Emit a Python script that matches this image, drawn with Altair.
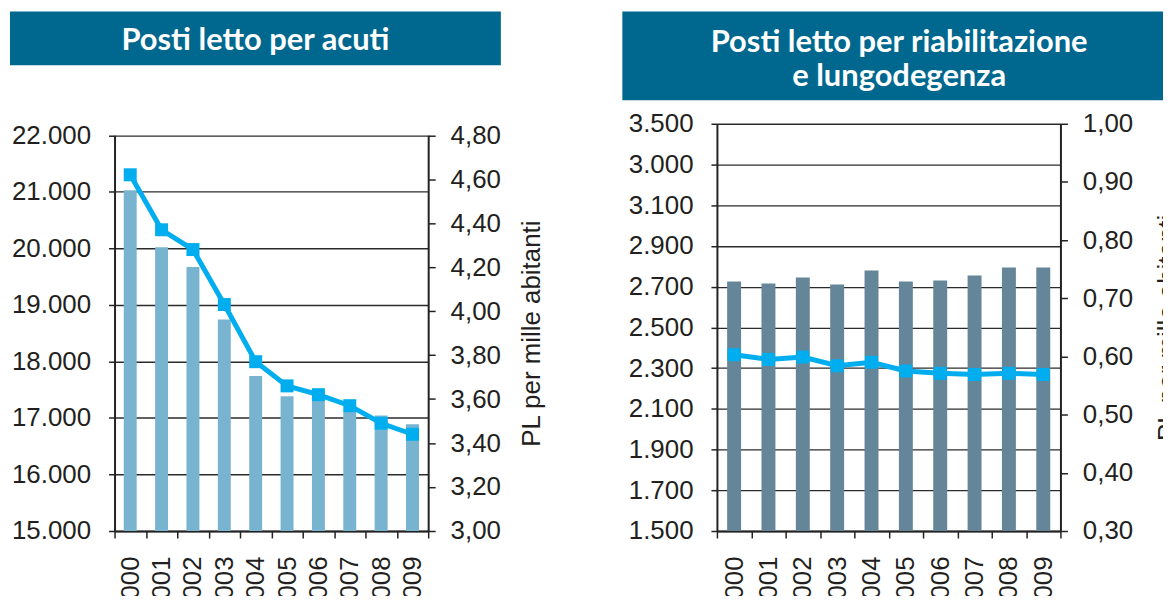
import altair as alt
import pandas as pd

# ---------------- data ----------------
years = ["2000", "2001", "2002", "2003", "2004", "2005", "2006", "2007", "2008", "2009"]

acuti_pl = [21027, 20020, 19668, 18742, 17741, 17384, 17310, 17115, 17045, 16887]
acuti_rate = [4.62, 4.37, 4.28, 4.03, 3.77, 3.66, 3.62, 3.57, 3.49, 3.44]

riab_pl = [2725, 2716, 2745, 2711, 2779, 2725, 2730, 2755, 2794, 2794]
riab_rate = [0.603, 0.595, 0.599, 0.584, 0.590, 0.575, 0.571, 0.569, 0.571, 0.569]

acuti_left_ticks = [15000, 16000, 17000, 18000, 19000, 20000, 21000, 22000]
acuti_right_ticks = [3.0, 3.2, 3.4, 3.6, 3.8, 4.0, 4.2, 4.4, 4.6, 4.8]

riab_left_ticks = [1500, 1700, 1900, 2100, 2300, 2500, 2700, 2900, 3100, 3300, 3500]
riab_left_labels = ["1.500", "1.700", "1.900", "2.100", "2.300", "2.500",
                    "2.700", "2.900", "3.100", "3.000", "3.500"]
riab_right_ticks = [0.3, 0.4, 0.5, 0.6, 0.7, 0.8, 0.9, 1.0]

title_left = "Posti letto per acuti"
title_right = "Posti letto per riabilitazione\ne lungodegenza"
axis_title = "PL per mille abitanti"

# ---------------- style ----------------
BANNER = "#00688F"
LINE = "#00AEEF"
TXT = "#231F20"
FONT = "Liberation Sans"

thousands_expr = "replace(format(datum.value, ',.0f'), ',', '.')"
decimal_expr = "replace(format(datum.value, '.2f'), '.', ',')"
riab_expr = ("[" + ",".join("'%s'" % s for s in riab_left_labels) + "][indexof(["
             + ",".join(str(v) for v in riab_left_ticks) + "], datum.value)]")

H = 409


def panel(pl, rate, left_dom, left_ticks, left_expr, right_dom, right_ticks,
          bar_color, bar_size, w, top_gap, title, banner_box, title_pos, title_pad):
    df = pd.DataFrame({"anno": years, "pl": pl, "rate": rate})
    base = alt.Chart(df)
    yrange = [H, top_gap]
    x = alt.X("anno:N", title=None, sort=years,
              scale=alt.Scale(paddingInner=0, paddingOuter=0),
              axis=alt.Axis(labelAngle=270, tickBand="extent", tickSize=7,
                            labelPadding=18, domainWidth=2, domainColor="#222",
                            tickColor="#222", tickWidth=1.5, grid=False))
    bars = base.mark_bar(color=bar_color, size=bar_size, clip=True).encode(
        x=x,
        y=alt.Y("pl:Q", title=None,
                scale=alt.Scale(domain=left_dom, range=yrange, nice=False, zero=False),
                axis=alt.Axis(orient="left", values=left_ticks, labelExpr=left_expr,
                              grid=True, gridColor="#2b2b2b", gridWidth=1.3,
                              tickSize=6, labelPadding=18, domainWidth=2,
                              domainColor="#222", tickColor="#222", tickWidth=1.5,
                              labelOverlap=False)),
    )
    line = base.mark_line(
        color=LINE, strokeWidth=5,
        point=alt.OverlayMarkDef(shape="square", size=170, filled=True,
                                 color=LINE, opacity=1),
    ).encode(
        x=x,
        y=alt.Y("rate:Q", title=axis_title,
                scale=alt.Scale(domain=right_dom, range=yrange, nice=False, zero=False),
                axis=alt.Axis(orient="right", values=right_ticks, labelExpr=decimal_expr,
                              grid=False, tickSize=7, labelPadding=15, domainWidth=2,
                              domainColor="#222", tickColor="#222", tickWidth=1.5,
                              titleAngle=270, titleBaseline="top",
                              titlePadding=title_pad, labelOverlap=False)),
    )
    tdf = pd.DataFrame({"t": [title]})
    x1, x2, y1, y2 = banner_box
    rect = alt.Chart(tdf).mark_rect(color=BANNER).encode(
        x=alt.value(x1), x2=alt.value(x2), y=alt.value(y1), y2=alt.value(y2))
    text = alt.Chart(tdf).mark_text(
        color="white", font="Lato", fontWeight="bold", fontSize=31,
        lineBreak="\n", lineHeight=35, align="center", baseline="middle",
    ).encode(text="t:N", x=alt.value(title_pos[0]), y=alt.value(title_pos[1]))
    return alt.layer(bars, line, rect, text).resolve_scale(y="independent").properties(
        width=w, height=H)


left = panel(acuti_pl, acuti_rate, [15000, 22000], acuti_left_ticks, thousands_expr,
             [3.0, 4.8], acuti_right_ticks, "#78B4D0", 13, 315, 11.5,
             title_left, (-105, 388, -112.7, -58.7), (141.5, -83.5), 18)

right = panel(riab_pl, riab_rate, [1500, 3500], riab_left_ticks, riab_expr,
              [0.3, 1.0], riab_right_ticks, "#648698", 14, 345, 0,
              title_right, (-95, 500, -112.7, -23.7), (183, -81.5), 22)

chart = alt.hconcat(left, right, spacing=78).properties(
    padding={"left": 2, "top": 2, "right": -52, "bottom": -19},
).configure_view(strokeWidth=0).configure_axis(
    labelFont=FONT, labelFontSize=26, labelColor=TXT,
    titleFont=FONT, titleFontSize=26, titleColor=TXT, titleFontWeight="normal",
)

chart.save("out.html", embed_options={"renderer": "svg", "actions": False})
